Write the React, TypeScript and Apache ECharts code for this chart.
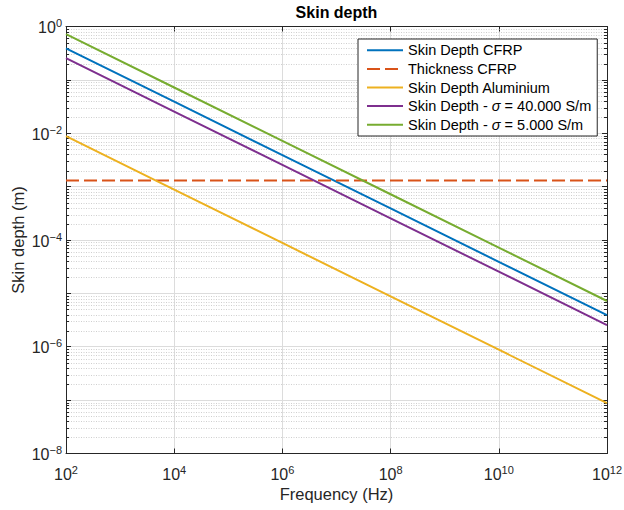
import React, { useEffect, useRef } from 'react';
import * as echarts from 'echarts';

// ---- data (log-log straight lines) ----
const frequency = [1e2, 1e4, 1e6, 1e8, 1e10, 1e12];
const skinDepthCFRP = [3.9e-1, 3.9e-2, 3.9e-3, 3.9e-4, 3.9e-5, 3.9e-6];
const thicknessCFRP = [1.3e-3, 1.3e-3, 1.3e-3, 1.3e-3, 1.3e-3, 1.3e-3];
const skinDepthAluminium = [8.8e-3, 8.8e-4, 8.8e-5, 8.8e-6, 8.8e-7, 8.8e-8];
const skinDepthSigma40k = [2.55e-1, 2.55e-2, 2.55e-3, 2.55e-4, 2.55e-5, 2.55e-6];
const skinDepthSigma5k = [7.2e-1, 7.2e-2, 7.2e-3, 7.2e-4, 7.2e-5, 7.2e-6];

const seriesNames = [
  'Skin Depth CFRP',
  'Thickness CFRP',
  'Skin Depth Aluminium',
  'Skin Depth - σ = 40.000 S/m',
  'Skin Depth - σ = 5.000 S/m',
];
const seriesValues = [skinDepthCFRP, thicknessCFRP, skinDepthAluminium, skinDepthSigma40k, skinDepthSigma5k];
const seriesColors = ['#0072BD', '#D95319', '#EDB120', '#7E2F8E', '#77AC30'];

const xMin = 1e2;
const xMax = 1e12;
const yMin = 1e-8;
const yMax = 1e0;
const minorMantissas = [2, 3, 4, 5, 6, 7, 8, 9];
const yDecadeExponents = [-8, -7, -6, -5, -4, -3, -2, -1];

const FONT = '"Liberation Sans", Arial, Helvetica, sans-serif';
const AX = '#262626';

export default function App() {
  const ref = useRef<HTMLDivElement>(null);

  useEffect(() => {
    if (!ref.current) return;
    const chart = echarts.init(ref.current, undefined, { renderer: 'svg' });

    const minorValues: number[][] = [];
    yDecadeExponents.forEach((e) => {
      minorMantissas.forEach((m) => minorValues.push([xMin, m * Math.pow(10, e)]));
    });

    const expOf = (v: number) => Math.round(Math.log10(v));
    const expText = (e: number) => (e < 0 ? '\u2212' + Math.abs(e) : String(e));
    const rich = {
      b: { fontSize: 16, fontFamily: FONT, color: AX, lineHeight: 18, verticalAlign: 'bottom' },
      s: { fontSize: 11, fontFamily: FONT, color: AX, lineHeight: 7, verticalAlign: 'top' },
    };

    const lineSeries = seriesNames.map((name, i) => ({
      name,
      type: 'line',
      xAxisIndex: 0,
      yAxisIndex: 0,
      data: frequency.map((f, k) => [f, seriesValues[i][k]]),
      showSymbol: false,
      symbol: 'none',
      z: 3,
      lineStyle: {
        color: seriesColors[i],
        width: 2,
        type: i === 1 ? [13, 5] : 'solid',
      },
      itemStyle: { color: seriesColors[i] },
    }));

    const option: any = {
      animation: false,
      backgroundColor: '#ffffff',
      title: {
        text: 'Skin depth',
        left: 336.5,
        top: 3,
        padding: 0,
        textAlign: 'center',
        textStyle: { fontFamily: FONT, fontSize: 16, fontWeight: 'bold', color: '#000', lineHeight: 18 },
      },
      grid: {
        left: 66,
        right: 17,
        top: 26.5,
        bottom: 56.5,
        containLabel: false,
        outerBoundsMode: 'none',
      },
      legend: {
        data: seriesNames,
        orient: 'vertical',
        left: 358,
        top: 39,
        padding: [2, 6, 2, 8],
        itemGap: 0,
        itemWidth: 36,
        itemHeight: 12,
        backgroundColor: '#ffffff',
        borderColor: AX,
        borderWidth: 1,
        borderRadius: 0,
        selectedMode: false,
        itemStyle: { opacity: 0, borderWidth: 0 },
        textStyle: {
          fontFamily: FONT,
          fontSize: 14.5,
          color: '#000',
          lineHeight: 18.6,
          rich: { i: { fontFamily: FONT, fontSize: 14.5, fontStyle: 'italic', color: '#000', lineHeight: 18.6 } },
        },
        formatter: (name: string) => name.replace('σ', '{i|σ}'),
      },
      xAxis: [
        {
          type: 'log',
          logBase: 10,
          min: xMin,
          max: xMax,
          interval: 2,
          position: 'bottom',
          name: 'Frequency (Hz)',
          nameLocation: 'middle',
          nameGap: 32,
          nameMoveOverlap: false,
          nameTextStyle: { fontFamily: FONT, fontSize: 16.5, color: AX },
          axisLine: { show: true, onZero: false, lineStyle: { color: AX, width: 1 } },
          axisTick: { show: true, inside: true, length: 5, lineStyle: { color: AX, width: 1 } },
          minorTick: { show: false },
          splitLine: { show: true, lineStyle: { color: '#dcdcdc', width: 1 } },
          axisLabel: {
            margin: 11,
            formatter: (v: number) => `{b|10}{s|${expText(expOf(v))}}`,
            rich,
          },
        },
        {
          type: 'log',
          logBase: 10,
          min: xMin,
          max: xMax,
          interval: 2,
          position: 'top',
          axisLine: { show: true, onZero: false, lineStyle: { color: AX, width: 1 } },
          axisTick: { show: true, inside: true, length: 5, lineStyle: { color: AX, width: 1 } },
          splitLine: { show: false },
          axisLabel: { show: false },
        },
      ],
      yAxis: [
        {
          type: 'log',
          logBase: 10,
          min: yMin,
          max: yMax,
          interval: 1,
          position: 'left',
          name: 'Skin depth (m)',
          nameLocation: 'middle',
          nameGap: 40,
          nameMoveOverlap: false,
          nameTextStyle: { fontFamily: FONT, fontSize: 16.5, color: AX },
          axisLine: { show: true, onZero: false, lineStyle: { color: AX, width: 1 } },
          axisTick: { show: true, inside: true, length: 5, lineStyle: { color: AX, width: 1 } },
          splitLine: { show: true, lineStyle: { color: '#dcdcdc', width: 1 } },
          axisLabel: {
            margin: 4,
            formatter: (v: number) => {
              const e = expOf(v);
              return e % 2 === 0 ? `{b|10}{s|${expText(e)}}` : '';
            },
            rich,
          },
        },
        {
          type: 'log',
          logBase: 10,
          min: yMin,
          max: yMax,
          interval: 1,
          position: 'right',
          axisLine: { show: true, onZero: false, lineStyle: { color: AX, width: 1 } },
          axisTick: { show: true, inside: true, length: 5, lineStyle: { color: AX, width: 1 } },
          splitLine: { show: false },
          axisLabel: { show: false },
        },
      ],
      series: [
        {
          name: 'minor-grid',
          type: 'custom',
          xAxisIndex: 0,
          yAxisIndex: 0,
          silent: true,
          z: 1,
          data: minorValues,
          renderItem: (params: any, api: any) => {
            const v = api.value(1);
            const p0 = api.coord([xMin, v]);
            const p1 = api.coord([xMax, v]);
            const y = Math.round(p0[1]) + 0.5;
            return {
              type: 'group',
              children: [
                {
                  type: 'line',
                  shape: { x1: p0[0], y1: y, x2: p1[0], y2: y },
                  style: { stroke: '#cfcfcf', lineWidth: 1, lineDash: [1, 1.5] },
                },
                {
                  type: 'line',
                  shape: { x1: p0[0], y1: y, x2: p0[0] + 3, y2: y },
                  style: { stroke: AX, lineWidth: 1 },
                },
                {
                  type: 'line',
                  shape: { x1: p1[0] - 3, y1: y, x2: p1[0], y2: y },
                  style: { stroke: AX, lineWidth: 1 },
                },
              ],
            };
          },
        },
        ...lineSeries,
      ],
    };

    chart.setOption(option);
    return () => chart.dispose();
  }, []);

  return (
    <div
      ref={ref}
      style={{ position: 'fixed', left: 0, top: 0, width: 624, height: 510, background: '#fff' }}
    />
  );
}
